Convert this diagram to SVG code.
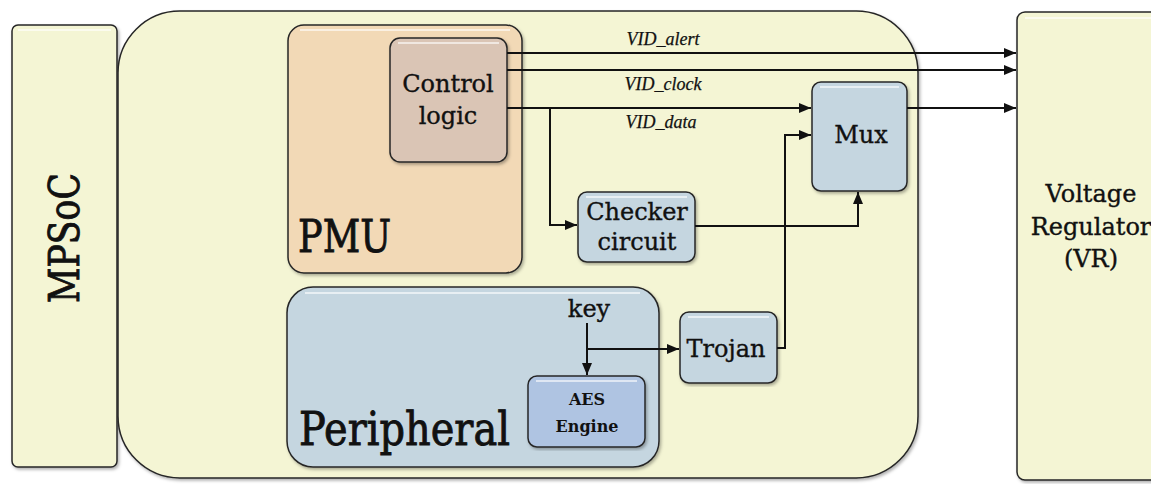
<svg xmlns="http://www.w3.org/2000/svg" width="1151" height="484" viewBox="0 0 1151 484">
<style>
.box{stroke:#262626;stroke-width:1.5;filter:url(#sh)}
.yel{fill:#f4f5d4}
.pmu{fill:#f2d9b6}
.ctl{fill:#dac5b5}
.blu{fill:#c5d6e0}
.aes{fill:#afc4e2}
.hl{fill:none;stroke:#ffffff;stroke-opacity:0.6;stroke-width:2}
.t{font-family:"DejaVu Serif",serif;fill:#111;text-anchor:middle;stroke:#111;stroke-width:0.35}
.big{stroke-width:0.9}
.lbl{font-family:"Liberation Serif",serif;font-style:italic;font-size:18px;fill:#111;text-anchor:middle;stroke:#111;stroke-width:0.25}
.w{fill:none;stroke:#111;stroke-width:2}
</style>
<defs>
<marker id="ah" markerWidth="12" markerHeight="10" refX="12" refY="5" orient="auto" markerUnits="userSpaceOnUse">
<path d="M0,0 L12,5 L0,10 Z" fill="#111"/>
</marker>
<filter id="sh" x="-5%" y="-5%" width="110%" height="110%">
<feDropShadow dx="1.5" dy="2" stdDeviation="1.5" flood-color="#000" flood-opacity="0.3"/>
</filter>
</defs>
<rect width="1151" height="484" fill="#ffffff"/>

<g id="mpsoc">
<rect class="box yel" x="12" y="25" width="105" height="442" rx="6"/>
<line class="hl" x1="18" y1="30" x2="111" y2="30"/>
<text class="t big" font-size="42" transform="translate(79,238) rotate(-90)" textLength="130" lengthAdjust="spacingAndGlyphs">MPSoC</text>
</g>

<g id="soc">
<rect class="box yel" x="118" y="11" width="800" height="467" rx="62"/>
</g>

<g id="vr">
<rect class="box yel" x="1017" y="12" width="150" height="468" rx="8"/>
<line class="hl" x1="1025" y1="18" x2="1151" y2="18"/>
<text class="t" font-size="24" x="1091" y="202">Voltage</text>
<text class="t" font-size="24" x="1091" y="235">Regulator</text>
<text class="t" font-size="24" x="1091" y="267">(VR)</text>
</g>

<g id="pmu">
<rect class="box pmu" x="288" y="25" width="234" height="248" rx="16"/>
<line class="hl" x1="300" y1="30" x2="510" y2="30"/>
<text class="t big" font-size="44" x="298" y="252" style="text-anchor:start" textLength="93" lengthAdjust="spacingAndGlyphs">PMU</text>
</g>

<g id="control">
<rect class="box ctl" x="390" y="38" width="117" height="124" rx="10"/>
<line class="hl" x1="398" y1="43" x2="499" y2="43"/>
<text class="t" font-size="24" x="448" y="92">Control</text>
<text class="t" font-size="24" x="448" y="124">logic</text>
</g>

<g id="peripheral">
<rect class="box blu" x="287" y="287" width="372" height="180" rx="26"/>
<line class="hl" x1="305" y1="293" x2="640" y2="293"/>
<text class="t big" font-size="46" x="299" y="445" style="text-anchor:start" textLength="211" lengthAdjust="spacingAndGlyphs">Peripheral</text>
<text class="t" font-size="24" x="589" y="317">key</text>
</g>

<g id="aes">
<rect class="box aes" x="528" y="376" width="117" height="71" rx="9"/>
<line class="hl" x1="536" y1="381" x2="637" y2="381"/>
<text class="t" font-size="16" font-weight="bold" x="587" y="405" style="stroke-width:0">AES</text>
<text class="t" font-size="16" font-weight="bold" x="587" y="432" style="stroke-width:0">Engine</text>
</g>

<g id="checker">
<rect class="box blu" x="578" y="192" width="117" height="70" rx="9"/>
<line class="hl" x1="586" y1="197" x2="687" y2="197"/>
<text class="t" font-size="24" x="637" y="220">Checker</text>
<text class="t" font-size="24" x="637" y="250">circuit</text>
</g>

<g id="mux">
<rect class="box blu" x="812" y="82" width="95" height="109" rx="9"/>
<line class="hl" x1="820" y1="87" x2="899" y2="87"/>
<text class="t" font-size="24" x="861" y="143">Mux</text>
</g>

<g id="trojan">
<rect class="box blu" x="680" y="312" width="97" height="71" rx="9"/>
<line class="hl" x1="688" y1="317" x2="769" y2="317"/>
<text class="t" font-size="24" x="726" y="357">Trojan</text>
</g>

<g id="connectors">
<line class="w" x1="507" y1="53" x2="1016" y2="53" marker-end="url(#ah)"/>
<line class="w" x1="507" y1="70" x2="1016" y2="70" marker-end="url(#ah)"/>
<line class="w" x1="507" y1="108" x2="811" y2="108" marker-end="url(#ah)"/>
<line class="w" x1="907" y1="108" x2="1016" y2="108" marker-end="url(#ah)"/>
<polyline class="w" points="550,108 550,225 577,225" marker-end="url(#ah)"/>
<polyline class="w" points="695,226 858,226 858,192" marker-end="url(#ah)"/>
<polyline class="w" points="777,348 785,348 785,135 811,135" marker-end="url(#ah)"/>
<line class="w" x1="587" y1="323" x2="587" y2="375" marker-end="url(#ah)"/>
<line class="w" x1="587" y1="349" x2="679" y2="349" marker-end="url(#ah)"/>
<text class="lbl" x="663" y="45">VID_alert</text>
<text class="lbl" x="663" y="90">VID_clock</text>
<text class="lbl" x="661" y="128">VID_data</text>
</g>
</svg>
